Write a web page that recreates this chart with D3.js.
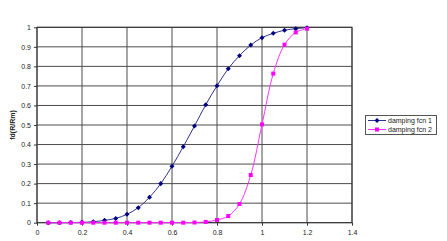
<!DOCTYPE html>
<html><head><meta charset="utf-8">
<script src="https://cdn.jsdelivr.net/npm/d3@7/dist/d3.min.js"></script>
<style>body{margin:0;background:#fff}svg{display:block}text{font-family:"Liberation Sans",Arial,sans-serif}</style>
</head><body><svg id="c" width="447" height="241"></svg>
<script>
const xValues = [0.05,0.1,0.15,0.2,0.25,0.3,0.35,0.4,0.45,0.5,0.55,0.6,0.65,0.7,0.75,0.8,0.85,0.9,0.95,1.0,1.05,1.1,1.15,1.2];
const fcn1 = [0.0,0.0,0.001,0.002,0.005,0.012,0.022,0.043,0.077,0.13,0.20,0.289,0.389,0.495,0.604,0.701,0.788,0.855,0.909,0.947,0.969,0.985,0.993,0.998];
const fcn2 = [0,0,0,0,0,0,0,0,0,0,0,0,0,0.001,0.004,0.014,0.034,0.096,0.244,0.503,0.763,0.911,0.974,0.993];
const seriesNames = ["damping fcn 1","damping fcn 2"];
const xTicks = [0,0.2,0.4,0.6,0.8,1,1.2,1.4];
const yTicks = [0,0.1,0.2,0.3,0.4,0.5,0.6,0.7,0.8,0.9,1];
const yLabel = "fd(R/Rm)";

const svg = d3.select("#c");
const L=37, R=352, T=27.3, B=222.7;
const x = d3.scaleLinear().domain([0,1.4]).range([L,R]);
const y = d3.scaleLinear().domain([0,1]).range([B,T]);

// grid
svg.append("g").selectAll("line").data(yTicks).join("line")
  .attr("x1",L).attr("x2",R).attr("y1",d=>y(d)).attr("y2",d=>y(d))
  .attr("stroke","#4d4d4d").attr("stroke-width",1);
svg.append("g").selectAll("line").data(xTicks).join("line")
  .attr("x1",d=>x(d)).attr("x2",d=>x(d)).attr("y1",T).attr("y2",B)
  .attr("stroke","#4d4d4d").attr("stroke-width",1);
svg.append("rect").attr("x",L).attr("y",T).attr("width",R-L).attr("height",B-T)
  .attr("fill","none").attr("stroke","#333").attr("stroke-width",1);

const fmt = d=>String(+d.toFixed(1));
const yAxis = svg.append("g").attr("transform",`translate(${L},0)`)
  .call(d3.axisLeft(y).tickValues(yTicks).tickFormat(fmt).tickSize(3).tickPadding(3));
const xAxis = svg.append("g").attr("transform",`translate(0,${B})`)
  .call(d3.axisBottom(x).tickValues(xTicks).tickFormat(fmt).tickSize(3).tickPadding(4));
[yAxis,xAxis].forEach(a=>{
  a.select(".domain").remove();
  a.selectAll("line").attr("stroke","#333");
  a.selectAll("text").attr("font-size",7).attr("fill","#222").style("font-family","Liberation Sans, Arial, sans-serif");
});

svg.append("text").attr("transform",`translate(15,${(T+B)/2}) rotate(-90)`)
  .attr("text-anchor","middle").attr("font-size",7).attr("font-weight","bold").attr("fill","#222").text(yLabel);

const colors = ["#000080","#ff00ff"];
const lineColors = ["#33338f","#ff33ff"];
const data = [fcn1,fcn2].map(s=>s.map((v,i)=>({x:xValues[i],y:v})));
const line = d3.line().x(d=>x(d.x)).y(d=>y(d.y)).curve(d3.curveCatmullRom.alpha(0.5));
const diamond = d3.symbol().type(d3.symbolDiamond2).size(16);
const square = d3.symbol().type(d3.symbolSquare).size(16);
const syms = [diamond,square];

data.forEach((s,k)=>{
  svg.append("path").attr("d",line(s)).attr("fill","none").attr("stroke",lineColors[k]).attr("stroke-width",1);
});
data.forEach((s,k)=>{
  svg.append("g").selectAll("path").data(s).join("path")
    .attr("transform",d=>`translate(${x(d.x)},${y(d.y)})`)
    .attr("d",syms[k]()).attr("fill",colors[k]);
});

// legend
const lg = svg.append("g");
lg.append("rect").attr("x",365.5).attr("y",115.5).attr("width",71).attr("height",19)
  .attr("fill","#fff").attr("stroke","#555").attr("stroke-width",1);
seriesNames.forEach((n,k)=>{
  const yy = 120.5 + k*9;
  lg.append("line").attr("x1",368).attr("x2",386).attr("y1",yy).attr("y2",yy).attr("stroke",lineColors[k]).attr("stroke-width",1);
  lg.append("path").attr("transform",`translate(377,${yy})`).attr("d",syms[k]()).attr("fill",colors[k]);
  lg.append("text").attr("x",388).attr("y",yy+2.5).attr("font-size",7).attr("fill","#222").text(n);
});
</script></body></html>
